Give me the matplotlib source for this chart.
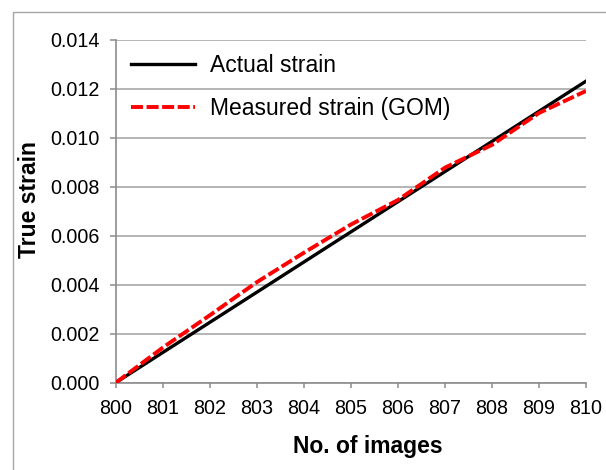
import matplotlib
matplotlib.use("Agg")
import matplotlib.pyplot as plt
from matplotlib.patches import Rectangle

# image index vs. true strain
images = [800, 801, 802, 803, 804, 805, 806, 807, 808, 809, 810]
actual_strain = [0.0, 0.00123, 0.00246, 0.00369, 0.00492, 0.00615,
                 0.00738, 0.00861, 0.00984, 0.01107, 0.0123]
measured_strain = [0.0, 0.00143, 0.00275, 0.0041, 0.0053, 0.00645,
                   0.00745, 0.00877, 0.0097, 0.0110, 0.0119]

y_ticks = [0.000, 0.002, 0.004, 0.006, 0.008, 0.010, 0.012, 0.014]

plt.rcParams["font.family"] = ["Liberation Sans", "DejaVu Sans"]

W, H = 606, 470
fig = plt.figure(figsize=(W / 100, H / 100), dpi=100)
fig.patch.set_facecolor("white")

# chart-area frame, running off the right and bottom edges
fig.patches.append(Rectangle((13 / W, -0.05), 1.1, 1 - 12 / H + 0.05,
                             transform=fig.transFigure, fill=False,
                             edgecolor="#a6a6a6", linewidth=1.0))

ax = fig.add_axes([116 / W, 1 - 382.5 / H, (586 - 116) / W, (382.5 - 39.5) / H])

ax.plot(images, actual_strain, color="black", linewidth=2.4,
        label="Actual strain", zorder=3)
ax.plot(images, measured_strain, color="#ff0000", linewidth=2.8,
        dashes=(3.1, 0.9), label="Measured strain (GOM)", zorder=4)

ax.set_xlim(800, 810)
ax.set_ylim(0, 0.014)
ax.set_xticks(images)
ax.set_yticks(y_ticks)
ax.set_yticklabels([f"{v:.3f}" for v in y_ticks])

ax.grid(axis="y", color="#a0a0a0", linewidth=1.1)
ax.set_axisbelow(True)
for side in ("top", "right"):
    ax.spines[side].set_visible(False)
for side in ("left", "bottom"):
    ax.spines[side].set_color("#8c8c8c")
    ax.spines[side].set_linewidth(1.2)

ax.tick_params(axis="both", colors="#8c8c8c", labelcolor="black",
               labelsize=14.2, width=1.1)
ax.tick_params(axis="y", length=4.3, pad=7.7)
ax.tick_params(axis="x", length=3.6, pad=8.5)

fig.text(367.5 / W, 1 - 447 / H, "No. of images", ha="center", va="center",
         fontsize=16.5, fontweight="bold")
fig.text(29.5 / W, 1 - 200 / H, "True strain", ha="center", va="center",
         rotation=90, fontsize=16.5, fontweight="bold")

ax.legend(loc="upper left", bbox_to_anchor=(113 / W, 1 - 36 / H),
          bbox_transform=fig.transFigure, frameon=False, fontsize=16.5,
          handlelength=2.8, handletextpad=0.62, labelspacing=0.84,
          borderpad=0.3)

fig.savefig("out.png", dpi=100)
